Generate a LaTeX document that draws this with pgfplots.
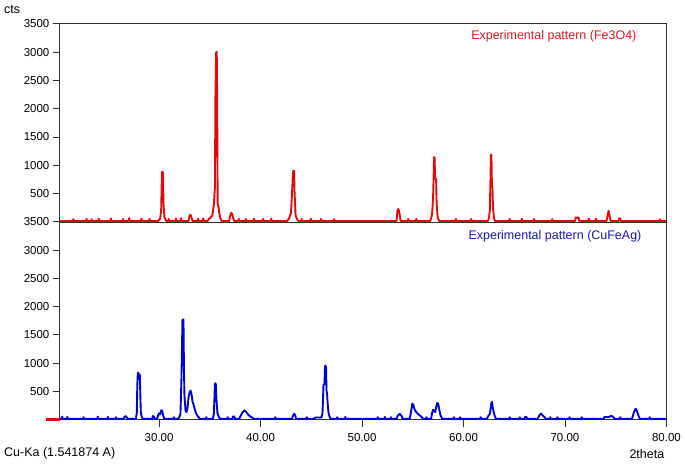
\documentclass[border=0pt]{standalone}
\usepackage{pgfplots}
\pgfplotsset{compat=1.18}
\usepackage{fontspec}
\setmainfont{Liberation Sans}
\definecolor{xred}{RGB}{225,10,10}
\definecolor{xblue}{RGB}{0,0,210}
\definecolor{tred}{RGB}{200,30,30}
\definecolor{tblue}{RGB}{25,25,165}
\definecolor{axgray}{RGB}{50,50,50}
\begin{document}
\begin{tikzpicture}
\fontsize{12.6}{15}\selectfont
\begin{axis}[
  scale only axis,
  width=610bp, height=398bp,
  xmin=20.2, xmax=80, ymin=0, ymax=7000,
  axis line style={axgray, line width=1.1bp},
  clip=false,
  xtick={30,40,50,60,70,80},
  xticklabels={30.00,40.00,50.00,60.00,70.00,80.00},
  ytick={500,1000,1500,2000,2500,3000,3500,4000,4500,5000,5500,6000,6500,7000},
  yticklabels={500,1000,1500,2000,2500,3000,3500,500,1000,1500,2000,2500,3000,3500},
  tick align=outside,
  major tick length=7bp,
  tick style={axgray, line width=0.9bp},
  xtick pos=bottom, ytick pos=left,
  tick label style={font=\fontsize{11.6}{14}\selectfont},
  yticklabel style={xshift=1bp},
  xticklabel style={yshift=-2bp},
  /pgf/number format/assume math mode=true,
]
% dark separator under the top trace
\addplot[axgray, line width=1.1bp, forget plot] coordinates {(20.2,3495)(80,3495)};
% red marker at lower left
\addplot[xred, line width=3bp, forget plot] coordinates {(18.9,0)(20.2,0)};
% Fe3O4 (top panel, counts shifted by 3500)
\addplot[xred, line width=1.9bp, line join=round] table[y expr=\thisrowno{1}+3515] {
20.2 0
21.5 0
21.55 30
21.6 0
22.8 0
22.85 35
22.9 0
23.3 0
23.35 30
23.4 0
24.0 0
24.05 40
24.1 0
25.2 0
25.25 45
25.3 0
26.4 0
26.45 35
26.5 0
27.0 0
27.05 50
27.1 0
28.2 0
28.25 40
28.3 0
29.0 0
29.05 35
29.1 0
29.9 0
30.1 40
30.2 180
30.28 870
30.38 860
30.43 300
30.53 60
30.7 0
30.9 0
30.95 35
31.0 0
31.6 0
31.65 40
31.7 0
32.1 0
32.15 50
32.2 0
32.9 0
33.0 100
33.1 110
33.2 60
33.3 0
33.8 0
33.85 40
33.9 0
34.3 0
34.35 45
34.4 0
34.8 0
34.9 40
35.0 45
35.25 100
35.4 300
35.5 600
35.55 2200
35.62 2980
35.68 2990
35.72 2200
35.77 300
35.85 250
35.95 120
36.05 40
36.15 0
36.9 0
37.0 90
37.1 140
37.2 130
37.3 50
37.4 0
37.8 0
37.85 35
37.9 0
38.5 0
38.55 35
38.6 0
39.3 0
39.35 40
39.4 0
40.2 0
40.25 35
40.3 0
41.0 0
41.05 40
41.1 0
42.6 0
42.8 40
43.0 150
43.1 500
43.2 880
43.3 890
43.35 500
43.45 100
43.6 30
43.7 0
44.0 0
44.05 35
44.1 0
44.9 0
44.95 40
45.0 0
45.9 0
45.95 35
46.0 0
47.2 0
47.25 30
47.3 0
53.4 0
53.5 200
53.6 210
53.7 120
53.8 0
54.5 0
54.55 35
54.6 0
55.3 0
55.35 35
55.4 0
56.7 0
56.8 40
56.9 120
57.0 400
57.1 1130
57.15 1120
57.2 750
57.3 740
57.35 300
57.45 60
57.6 0
59.2 0
59.25 35
59.3 0
60.7 0
60.75 35
60.8 0
62.4 0
62.5 50
62.6 200
62.7 1170
62.75 1175
62.8 620
62.85 600
62.9 250
63.0 50
63.1 0
64.5 0
64.55 35
64.6 0
65.7 0
65.75 40
65.8 0
66.9 0
66.95 35
67.0 0
68.7 0
68.75 30
68.8 0
71.0 0
71.05 60
71.35 60
71.4 0
72.3 0
72.35 40
72.4 0
73.0 0
73.05 40
73.1 0
74.1 0
74.2 100
74.3 180
74.4 90
74.5 0
75.3 0
75.35 50
75.45 40
75.5 0
79.3 0
79.35 30
79.4 0
80.0 0
};
% CuFeAg (bottom panel)
\addplot[xblue, line width=1.9bp, line join=round] table[y expr=\thisrowno{1}+15] {
20.2 0
20.4 0
20.45 40
20.5 0
20.9 0
20.95 35
21.0 0
22.5 0
22.55 30
22.6 0
23.9 0
23.95 40
24.0 0
24.9 0
24.95 35
25.0 0
25.7 0
25.75 30
25.8 0
26.5 0
26.6 40
26.7 50
26.8 30
26.9 0
27.7 0
27.8 100
27.85 600
27.9 800
27.95 820
28.0 750
28.05 700
28.1 780
28.15 400
28.2 100
28.3 30
28.4 0
29.3 0
29.4 50
29.5 40
29.6 0
29.8 0
29.9 60
30.0 100
30.1 80
30.2 150
30.3 150
30.4 60
30.5 0
31.4 0
31.45 30
31.5 0
31.9 0
32.0 40
32.1 80
32.2 700
32.3 1750
32.35 1760
32.4 1750
32.45 870
32.5 400
32.6 150
32.7 120
32.8 200
32.9 380
33.0 470
33.1 500
33.2 430
33.3 300
33.4 250
33.5 180
33.6 120
33.7 80
33.8 50
33.9 30
34.0 0
34.6 0
34.65 30
34.7 0
35.3 0
35.4 100
35.5 620
35.55 630
35.6 600
35.65 350
35.75 100
35.9 30
36.0 0
36.7 0
36.75 30
36.8 0
37.2 0
37.3 45
37.4 40
37.5 0
37.9 0
38.0 40
38.2 110
38.4 150
38.6 120
38.8 70
39.0 40
39.2 20
39.3 0
41.4 0
41.45 30
41.5 0
43.1 0
43.2 60
43.3 90
43.4 70
43.5 0
44.5 0
44.55 30
44.6 0
45.3 0
45.35 25
46.0 25
46.1 100
46.2 600
46.3 620
46.35 930
46.4 945
46.45 900
46.5 500
46.55 450
46.6 300
46.7 100
46.8 40
46.9 0
47.5 0
47.55 30
47.6 0
48.3 0
48.35 35
48.4 0
51.5 0
51.55 30
51.6 0
52.2 0
52.25 35
52.3 0
52.8 0
52.85 30
52.9 0
53.4 0
53.5 50
53.7 90
53.9 50
54.0 0
54.7 0
54.8 100
54.95 270
55.05 250
55.15 180
55.3 130
55.5 90
55.7 60
55.9 30
56.0 0
56.3 0
56.35 30
56.4 0
56.8 0
56.9 100
57.0 160
57.1 150
57.2 120
57.3 200
57.4 280
57.5 270
57.6 180
57.7 80
57.8 40
57.9 0
59.0 0
59.05 30
59.1 0
59.6 0
59.65 30
59.7 0
61.6 0
61.7 30
61.8 0
62.3 0
62.4 40
62.6 90
62.75 280
62.8 300
62.9 180
63.0 100
63.1 40
63.2 0
64.5 0
64.55 30
64.6 0
65.5 0
65.55 30
65.6 0
66.0 0
66.1 40
66.2 30
66.3 0
67.3 0
67.5 70
67.65 95
67.8 60
68.0 30
68.1 0
68.5 0
68.55 30
68.6 0
69.2 0
69.25 30
69.3 0
70.4 0
70.45 30
70.5 0
71.6 0
71.65 30
71.7 0
73.8 0
73.9 35
74.3 30
74.5 50
74.7 45
74.9 0
75.4 0
75.45 30
75.5 0
76.6 0
76.8 120
76.95 180
77.05 160
77.2 80
77.3 30
77.4 0
78.3 0
78.35 30
78.4 0
80.0 0
};
\node[anchor=east, text=tred, inner sep=0pt] at (axis cs:77.06,6789) {Experimental pattern (Fe3O4)};
\node[anchor=east, text=tblue, inner sep=0pt] at (axis cs:77.55,3253) {Experimental pattern (CuFeAg)};
\end{axis}
\node[anchor=west, inner sep=0pt] at ([xshift=-56bp,yshift=14bp]current axis.north west) {cts};
\node[anchor=west, inner sep=0pt] at ([xshift=-56bp,yshift=-34bp]current axis.south west) {Cu-Ka (1.541874 A)};
\node[anchor=east, inner sep=0pt] at ([xshift=-2bp,yshift=-34bp]current axis.south east) {2theta};
\path ([xshift=-60bp,yshift=-47bp]current axis.south west) rectangle ([xshift=15bp,yshift=24bp]current axis.north east);
\end{tikzpicture}
\end{document}
